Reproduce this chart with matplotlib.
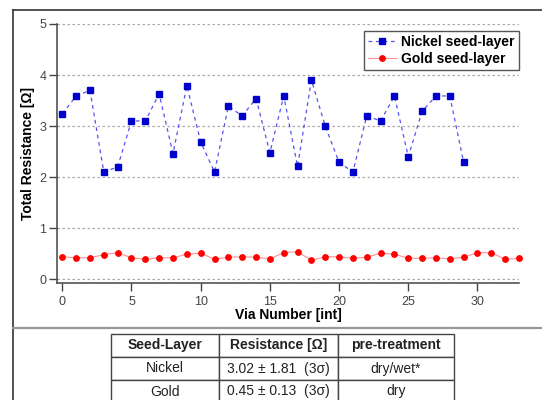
import matplotlib
matplotlib.use("Agg")
import matplotlib.pyplot as plt
from matplotlib.lines import Line2D

plt.rcParams['font.family'] = ['Liberation Sans', 'DejaVu Sans']

nickel_x = list(range(30))
nickel_y = [3.24, 3.59, 3.70, 2.10, 2.20, 3.10, 3.10, 3.63, 2.46, 3.79,
            2.69, 2.10, 3.39, 3.20, 3.54, 2.48, 3.59, 2.21, 3.90, 3.00,
            2.29, 2.10, 3.20, 3.10, 3.59, 2.40, 3.29, 3.59, 3.59, 2.29]
gold_x = list(range(34))
gold_y = [0.44, 0.42, 0.42, 0.48, 0.52, 0.42, 0.39, 0.42, 0.42, 0.49,
          0.51, 0.39, 0.43, 0.44, 0.43, 0.40, 0.52, 0.54, 0.37, 0.44,
          0.44, 0.41, 0.43, 0.51, 0.49, 0.41, 0.41, 0.42, 0.40, 0.43,
          0.52, 0.52, 0.39, 0.41]
xticks = [0, 5, 10, 15, 20, 25, 30]
yticks = [0, 1, 2, 3, 4, 5]
table_header = ["Seed-Layer", "Resistance [Ω]", "pre-treatment"]
table_rows = [["Nickel", "3.02 ± 1.81  (3σ)", "dry/wet*"],
              ["Gold", "0.45 ± 0.13  (3σ)", "dry"]]

W, H = 542, 400
fig = plt.figure(figsize=(W / 100, H / 100), dpi=100)

def fx(px):
    return px / W

def fy(py):
    return 1 - py / H

# outer frame
fig.add_artist(Line2D([fx(13), fx(13)], [fy(10), 0], color='#333333', lw=1.2))
fig.add_artist(Line2D([fx(13), 1], [fy(10), fy(10)], color='#333333', lw=1.2))
fig.add_artist(Line2D([fx(13), 1], [fy(328), fy(328)], color='#999999', lw=1.6))

ax = fig.add_axes([fx(57.3), fy(283.3), fx(519 - 57.3), (283.3 - 24) / H])
ax.set_xlim(-0.36, 33)
ax.set_ylim(-0.08, 5)

for v in yticks:
    ax.axhline(v, color='#aaaaaa', lw=0.9, ls=(0, (2, 2)), zorder=0)

ax.plot(gold_x, gold_y, color='#ff9090', lw=0.8, ls='-', marker='o',
        markersize=3.9, markerfacecolor='#ff0000', markeredgecolor='#ff0000',
        label='Gold seed-layer', zorder=3, clip_on=False)
ax.plot(nickel_x, nickel_y, color='#5555ee', lw=0.9, ls=(0, (3, 3)), marker='s',
        markersize=5, markerfacecolor='#0000cc', markeredgecolor='#0000cc',
        label='Nickel seed-layer', zorder=4)

for s in ['top', 'right']:
    ax.spines[s].set_visible(False)
for s in ['left', 'bottom']:
    ax.spines[s].set_color('#444444')
    ax.spines[s].set_linewidth(1.1)

ax.set_xticks(xticks)
ax.set_yticks(yticks)
ax.tick_params(axis='both', direction='out', length=6, width=1.0,
               color='#444444', labelcolor='#444444', labelsize=9, pad=2)
ax.tick_params(axis='x', pad=3)

ax.set_xlabel('Via Number [int]', fontsize=10, fontweight='bold', labelpad=0)
ax.set_ylabel('Total Resistance [Ω]', fontsize=10, fontweight='bold', labelpad=3)

handles, labels = ax.get_legend_handles_labels()
leg = ax.legend(handles[::-1], labels[::-1], loc='upper right',
                bbox_to_anchor=(1.0, 1 - 7 / (283.3 - 24)), fancybox=False,
                framealpha=1, edgecolor='#555555',
                prop={'weight': 'bold', 'size': 10}, handlelength=2.0,
                borderpad=0.3, labelspacing=0.2, handletextpad=0.4,
                borderaxespad=0)
leg.get_frame().set_linewidth(1.0)

# table
tax = fig.add_axes([fx(111), fy(403), fx(454 - 111), (403 - 334) / H])
tax.axis('off')
tbl = tax.table(cellText=table_rows, colLabels=table_header,
                colWidths=[108, 119, 116], cellLoc='center', bbox=[0, 0, 1, 1])
tbl.auto_set_font_size(False)
for (r, c), cell in tbl.get_celld().items():
    cell.set_edgecolor('#444444')
    cell.set_linewidth(1.0)
    cell.get_text().set_fontsize(10)
    cell.get_text().set_color('#222222')
    if r == 0:
        cell.get_text().set_fontweight('bold')

fig.savefig('out.png', dpi=100)
